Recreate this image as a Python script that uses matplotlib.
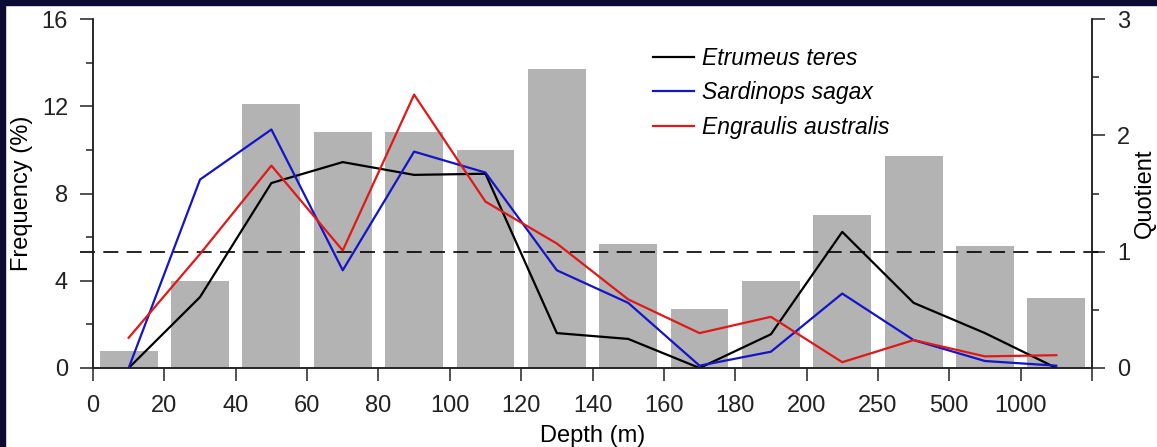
import numpy as np
import matplotlib
matplotlib.use('Agg')
from matplotlib import pyplot as plt
from matplotlib.patches import Rectangle

plt.rcParams['font.family'] = ['Liberation Sans', 'DejaVu Sans']

# depth bins (edges as printed on the axis)
edge_labels = ['0', '20', '40', '60', '80', '100', '120', '140', '160', '180',
               '200', '250', '500', '1000', '']
# frequency of sampling per depth bin (%), grey bars, left axis
freq = [0.8, 4.0, 12.1, 10.8, 10.8, 10.0, 13.7, 5.7, 2.7, 4.0, 7.0, 9.7, 5.6, 3.2]
# quotients per species, right axis
etrumeus = [0.0, 0.61, 1.59, 1.77, 1.66, 1.67, 0.30, 0.25, 0.0, 0.29, 1.17, 0.56, 0.30, 0.0]
sardinops = [0.0, 1.62, 2.05, 0.84, 1.86, 1.68, 0.84, 0.56, 0.02, 0.14, 0.64, 0.24, 0.06, 0.02]
engraulis = [0.26, 0.98, 1.74, 1.01, 2.35, 1.43, 1.07, 0.59, 0.30, 0.44, 0.05, 0.24, 0.10, 0.11]

fs = 17

fig = plt.figure(figsize=(11.57, 4.47), dpi=100)
ax = fig.add_axes([93/1157, 1-368/447, (1092-93)/1157, (368-19)/447])
ax2 = ax.twinx()

x = np.arange(len(freq)) + 0.5
ax.bar(x, freq, width=0.81, color='#b3b3b3', zorder=1)
ax.set_xlim(0, 14)
ax.set_ylim(0, 16)
ax.set_yticks([0, 4, 8, 12, 16])
ax.set_yticks([2, 6, 10, 14], minor=True)
ax.set_xticks(np.arange(15))
ax.set_xticklabels(edge_labels)
ax.tick_params(axis='both', which='major', length=9.5, width=1.1, labelsize=fs,
               colors='#222222', direction='out', pad=8.5)
ax.tick_params(axis='x', pad=10)
ax.tick_params(axis='y', which='minor', length=5, width=1.1, colors='#222222')
ax.set_ylabel('Frequency (%)', fontsize=fs, labelpad=6)
ax.set_xlabel('Depth (m)', fontsize=fs, labelpad=6)

ax2.set_ylim(0, 3)
ax2.set_yticks([0, 1, 2, 3])
ax2.set_yticks([0.5, 1.5, 2.5], minor=True)
ax2.tick_params(axis='y', which='major', length=9.5, width=1.1, labelsize=fs,
                colors='#222222', pad=8.5)
ax2.tick_params(axis='y', which='minor', length=5, width=1.1, colors='#222222')
ax2.set_ylabel('Quotient', fontsize=fs, labelpad=3)

for a in (ax, ax2):
    a.spines['top'].set_visible(False)
    for s in ('left', 'right', 'bottom'):
        a.spines[s].set_linewidth(1.1)
        a.spines[s].set_color('#222222')

ax2.plot([-0.18, 14.15], [1, 1], color='black', lw=1.2, dashes=(9, 5), clip_on=False)
ax2.plot(x, etrumeus, color='black', lw=1.6, label='Etrumeus teres')
ax2.plot(x, sardinops, color='#1414c8', lw=1.6, label='Sardinops sagax')
ax2.plot(x, engraulis, color='#e01818', lw=1.6, label='Engraulis australis')
ax2.legend(loc='upper left', bbox_to_anchor=(632/1157, 1-26/447),
           bbox_transform=fig.transFigure, frameon=False,
           prop={'style': 'italic', 'size': 16.5}, handlelength=1.8,
           handletextpad=0.35, labelspacing=0.5)

# dark frame strips at top and left of the screenshot
fig.patches.append(Rectangle((0, 0), 5/1157, 1, transform=fig.transFigure,
                             color='#0b0b35', zorder=10))
fig.patches.append(Rectangle((0, 1-5/447), 1, 5/447, transform=fig.transFigure,
                             color='#0b0b35', zorder=10))

fig.savefig('out.png', dpi=100)
